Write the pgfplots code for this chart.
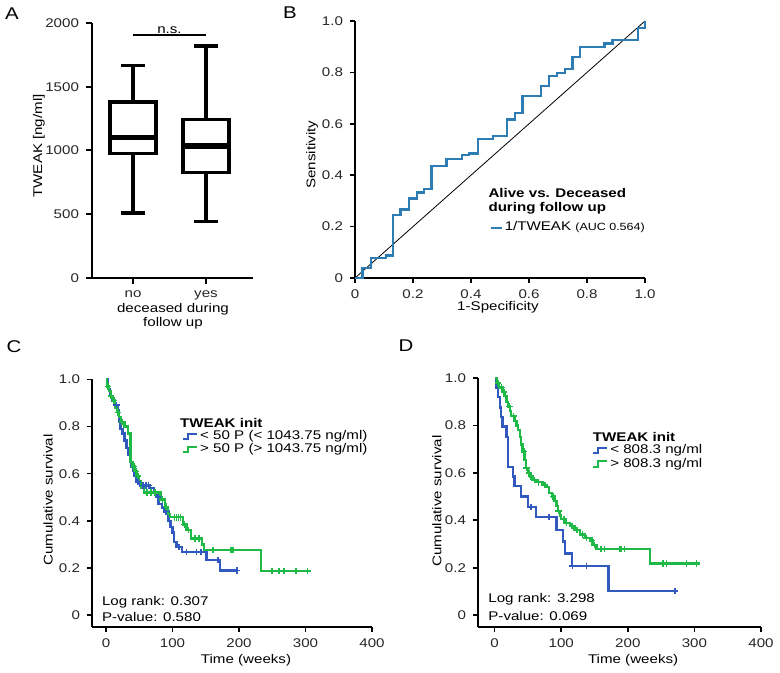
\documentclass[border=0pt]{standalone}
\usepackage{fontspec}
\setmainfont{Liberation Sans}[FakeStretch=1.2]
\usepackage{pgfplots}
\pgfplotsset{compat=1.18}

\definecolor{rocblue}{RGB}{45,125,180}
\definecolor{kmblue}{RGB}{50,90,190}
\definecolor{kmgreen}{RGB}{30,185,70}
\newcommand{\fs}{\fontsize{6.3}{7.2}\selectfont}

\pgfplotsset{
  panel/.style={
    scale only axis, axis lines=left, axis line style={-, line width=1pt},
    tick align=outside, major tick length=2.5pt, tick style={line width=0.8pt, black},
    every tick label/.append style={font=\fs, text=black!85},
    label style={font=\fs},
    /pgf/number format/assume math mode=true,
    clip=false,
  },
  km/.style={panel, xmin=-21, xmax=400, ymin=-0.05, ymax=1,
    xtick={0,100,200,300,400},
    ytick={0,0.2,0.4,0.6,0.8,1.0}, yticklabels={0,0.2,0.4,0.6,0.8,1.0},
    ylabel={Cumulative survival}, xlabel={Time (weeks)},
    legend style={draw=none, fill=none, font=\fs, row sep=-1.5pt, inner sep=0pt, nodes={inner sep=1pt}},
    legend cell align=left,
    legend image code/.code={\draw[##1, line width=1pt] (0pt,-1.3pt) -- (2.5pt,-1.3pt) -- (2.5pt,1.3pt) -- (7pt,1.3pt);},
  },
  censor/.style={only marks, mark=+, mark size=1.6pt, mark options={line width=0.8pt}, forget plot},
}

\begin{document}
\begin{tikzpicture}
\path[use as bounding box] (0,0) rectangle (390pt,-336.5pt);

% panel letters
\node[font=\fontsize{8.5}{9}\selectfont] at (6pt,-7pt) {A};
\node[font=\fontsize{8.5}{9}\selectfont] at (145pt,-6.5pt) {B};
\node[font=\fontsize{8.5}{9}\selectfont] at (7pt,-173.5pt) {C};
\node[font=\fontsize{8.5}{9}\selectfont] at (203pt,-173pt) {D};

% A: box plot (box, whiskers and caps; median drawn thicker)
\begin{axis}[panel, at={(46pt,-139pt)}, anchor=south west, width=80.5pt, height=127.5pt,
  xmin=0.438, xmax=2.644, ymin=0, ymax=2000,
  xtick={1,2}, xticklabels={no,yes},
  ytick={0,500,1000,1500,2000}, yticklabels={0,500,1000,1500,2000},
  axis line style={-, line width=1.2pt}, major tick length=3pt, tick style={line width=1pt},
  ylabel={TWEAK [ng/ml]}, xlabel={deceased during\\follow up},
  xlabel style={align=center, at={(axis description cs:0.503,-0.149)}, anchor=center},
  ylabel style={at={(axis description cs:-0.33,0.518)}, anchor=center},
  unbounded coords=jump,
]
% no
\addplot[black, line width=1.6pt] coordinates {
  (0.685,975) (1.315,975) (1.315,1380) (0.685,1380) (0.685,975) (1.315,975)
  (nan,nan) (1,1380) (1,1665) (nan,nan) (0.84,1665) (1.16,1665)
  (nan,nan) (1,975) (1,510) (nan,nan) (0.84,510) (1.16,510)};
\addplot[black, line width=2.6pt] coordinates {(0.685,1100) (1.315,1100)};
% yes
\addplot[black, line width=1.6pt] coordinates {
  (1.685,825) (2.315,825) (2.315,1240) (1.685,1240) (1.685,825) (2.315,825)
  (nan,nan) (2,1240) (2,1820) (nan,nan) (1.84,1820) (2.16,1820)
  (nan,nan) (2,825) (2,445) (nan,nan) (1.84,445) (2.16,445)};
\addplot[black, line width=2.6pt] coordinates {(1.685,1035) (2.315,1035)};
\draw[line width=0.9pt] (axis cs:1,1906) -- (axis cs:2,1906);
\node[font=\fs, anchor=south, inner sep=0.5pt] at (axis cs:1.5,1906) {n.s.};
\end{axis}

% B: ROC
\begin{axis}[panel, at={(177.5pt,-139pt)}, anchor=south west, width=145pt, height=128.5pt,
  xmin=0, xmax=1, ymin=0, ymax=1,
  xtick={0,0.2,0.4,0.6,0.8,1.0}, xticklabels={0,0.2,0.4,0.6,0.8,1.0},
  ytick={0,0.2,0.4,0.6,0.8,1.0}, yticklabels={0,0.2,0.4,0.6,0.8,1.0},
  ylabel={Sensitivity}, xlabel={1-Specificity},
  ylabel style={at={(axis description cs:-0.148,0.48)}, anchor=center},
  xlabel style={at={(axis description cs:0.493,-0.113)}, anchor=center},
  legend style={at={(axis cs:0.462,0.195)}, anchor=west, draw=none, fill=none, font=\fs,
    inner sep=0pt, nodes={inner sep=1pt}},
  legend image code/.code={\draw[#1, line width=1.2pt] (0pt,0pt) -- (5.5pt,0pt);},
]
\addplot[black, line width=0.4pt, forget plot] coordinates {(0,0) (1,1)};
\addplot[rocblue, line width=1.15pt, const plot] coordinates {
  (0,0) (0.026,0.038) (0.054,0.077) (0.107,0.087) (0.132,0.245) (0.157,0.267)
  (0.186,0.309) (0.213,0.333) (0.238,0.346) (0.264,0.437) (0.316,0.462)
  (0.368,0.479) (0.393,0.485) (0.423,0.540) (0.477,0.553) (0.525,0.617)
  (0.552,0.643) (0.578,0.708) (0.642,0.747) (0.670,0.786) (0.697,0.799)
  (0.724,0.812) (0.750,0.861) (0.775,0.900) (0.860,0.913) (0.888,0.926)
  (0.975,0.974) (1.0,1.0)};
\addlegendentry{1/TWEAK {\fontsize{5.2}{6}\selectfont(AUC 0.564)}}
\node[anchor=west, font=\fs\bfseries, inner sep=0pt] at (axis cs:0.459,0.331) {Alive vs. Deceased};
\node[anchor=west, font=\fs\bfseries, inner sep=0pt] at (axis cs:0.459,0.272) {during follow up};
\end{axis}

% C: Kaplan-Meier, 50th percentile split
\begin{axis}[km, at={(46pt,-313.5pt)}, anchor=south west, width=140pt, height=123.85pt,
  ylabel style={at={(axis description cs:-0.157,0.513)}, anchor=center},
  xlabel style={at={(axis description cs:0.55,-0.133)}, anchor=center},
  legend style={at={(axis cs:114,0.73)}, anchor=west},
]
\addplot[kmblue, line width=1.15pt, const plot] coordinates {
  (0,1.0) (3,0.96) (6,0.93) (10,0.91) (14,0.89) (18,0.87) (20,0.82) (22,0.79)
  (25,0.77) (28,0.74) (31,0.71) (33,0.68) (36,0.66) (38,0.63) (41,0.61) (43,0.59)
  (46,0.565) (52,0.55) (66,0.54) (72,0.52) (76,0.50) (79,0.47) (84,0.455) (88,0.44)
  (94,0.40) (97,0.375) (100,0.35) (102,0.31) (106,0.29) (114,0.268) (151,0.235)
  (171,0.19) (197,0.19)};
\addlegendentry{< 50 P (< 1043.75 ng/ml)}
\addplot[kmgreen, line width=1.15pt, const plot] coordinates {
  (0,1.0) (2,0.97) (5,0.95) (8,0.93) (11,0.91) (14,0.88) (17,0.86) (20,0.84)
  (23,0.82) (28,0.80) (33,0.77) (37,0.65) (40,0.63) (43,0.61) (46,0.59) (49,0.57)
  (53,0.54) (57,0.52) (82,0.49) (89,0.46) (93,0.43) (96,0.415) (116,0.385)
  (121,0.36) (128,0.325) (144,0.30) (147,0.276) (233,0.188) (306,0.188)};
\addlegendentry{> 50 P (> 1043.75 ng/ml)}
\addplot[kmblue, censor] coordinates {
  (12,0.91) (16,0.89) (48,0.565) (56,0.55) (60,0.55) (64,0.55) (78,0.50) (90,0.44)
  (110,0.29) (121,0.268) (136,0.268) (143,0.268) (168,0.235) (197,0.19)};
\addplot[kmgreen, censor] coordinates {
  (3,0.97) (8,0.93) (12,0.91) (18,0.86) (24,0.82) (42,0.63) (45,0.61) (48,0.59)
  (62,0.52) (68,0.52) (74,0.52) (85,0.49) (90,0.46) (103,0.415) (106,0.415)
  (109,0.415) (112,0.415) (118,0.385) (124,0.36) (134,0.325) (140,0.325)
  (161,0.276) (188,0.276) (191,0.276) (250,0.188) (260,0.188) (268,0.188)
  (286,0.188) (303,0.188)};
\node[anchor=west, font=\fs\bfseries, inner sep=0pt] at (axis cs:111,0.814) {TWEAK init};
\node[anchor=west, font=\fs, inner sep=0pt] at (axis cs:-6.5,0.056) {Log rank: 0.307};
\node[anchor=west, font=\fs, inner sep=0pt] at (axis cs:-6.5,-0.007) {P-value: 0.580};
\end{axis}

% D: Kaplan-Meier, 808.3 ng/ml cut-off
\begin{axis}[km, at={(239pt,-313.5pt)}, anchor=south west, width=141.5pt, height=124.5pt,
  xmin=-25,
  ylabel style={at={(axis description cs:-0.145,0.506)}, anchor=center},
  xlabel style={at={(axis description cs:0.548,-0.133)}, anchor=center},
  legend style={at={(axis cs:146,0.665)}, anchor=west},
]
\addplot[kmblue, line width=1.15pt, const plot] coordinates {
  (0,1.0) (2.5,0.96) (5,0.92) (8,0.875) (10,0.835) (12,0.795) (18,0.75) (20,0.625)
  (28,0.585) (30,0.545) (40,0.50) (50,0.457) (62,0.415) (93,0.36) (103,0.31)
  (106,0.26) (116,0.207) (171,0.103) (271,0.103)};
\addlegendentry{< 808.3 ng/ml}
\addplot[kmgreen, line width=1.15pt, const plot] coordinates {
  (0,1.0) (3,0.98) (7,0.96) (12,0.94) (15,0.925) (18,0.90) (20,0.88) (23,0.86)
  (25,0.84) (30,0.82) (33,0.80) (35,0.78) (38,0.75) (40,0.72) (42,0.69) (45,0.655)
  (47,0.62) (50,0.60) (53,0.585) (57,0.57) (62,0.56) (72,0.55) (78,0.54) (82,0.515)
  (86,0.50) (90,0.48) (93,0.46) (95,0.44) (98,0.42) (100,0.405) (105,0.39)
  (113,0.375) (120,0.36) (128,0.34) (136,0.325) (143,0.315) (148,0.295) (153,0.278)
  (233,0.218) (308,0.218)};
\addlegendentry{> 808.3 ng/ml}
\addplot[kmblue, censor] coordinates {
  (55,0.457) (82,0.415) (117,0.207) (138,0.207) (271,0.103)};
\addplot[kmgreen, censor] coordinates {
  (5,0.98) (10,0.96) (14,0.94) (22,0.88) (28,0.84) (44,0.69) (48,0.62) (52,0.60)
  (55,0.585) (60,0.57) (66,0.56) (76,0.55) (88,0.50) (96,0.44) (104,0.405)
  (108,0.39) (116,0.375) (124,0.36) (132,0.34) (138,0.325) (146,0.315) (150,0.295)
  (160,0.278) (165,0.278) (188,0.278) (190,0.278) (195,0.278) (253,0.218)
  (258,0.218) (288,0.218) (303,0.218)};
\node[anchor=west, font=\fs\bfseries, inner sep=0pt] at (axis cs:147,0.75) {TWEAK init};
\node[anchor=west, font=\fs, inner sep=0pt] at (axis cs:-10,0.066) {Log rank: 3.298};
\node[anchor=west, font=\fs, inner sep=0pt] at (axis cs:-10,-0.003) {P-value: 0.069};
\end{axis}
\end{tikzpicture}
\end{document}
